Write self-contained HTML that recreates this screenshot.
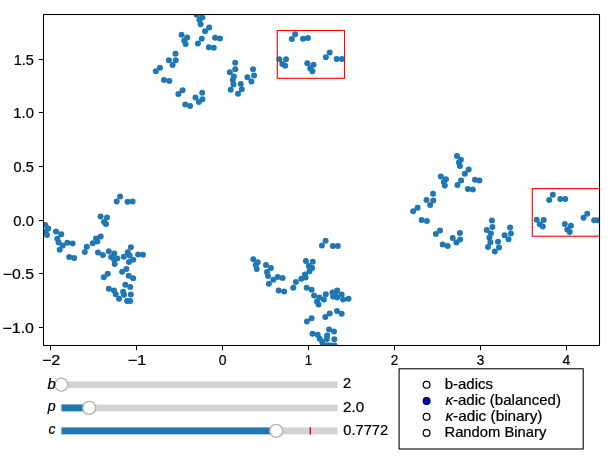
<!DOCTYPE html><html><head><meta charset="utf-8"><style>html,body{margin:0;padding:0;background:#fff;}svg{display:block;will-change:transform;}text{font-family:"Liberation Sans",sans-serif;stroke:#000;stroke-width:0.22px;}</style></head><body>
<svg width="614" height="461" viewBox="0 0 614 461">
<rect x="0" y="0" width="614" height="461" fill="#fff"/>
<defs><clipPath id="pc"><rect x="43.5" y="14.5" width="556.00" height="331.00"/></clipPath></defs>
<g clip-path="url(#pc)" fill="#1f77b4">
<circle cx="196.7" cy="14.7" r="3.0"/>
<circle cx="202.3" cy="17.4" r="3.0"/>
<circle cx="199.4" cy="19.8" r="3.0"/>
<circle cx="200.6" cy="24.2" r="3.0"/>
<circle cx="209.2" cy="27.4" r="3.0"/>
<circle cx="205.0" cy="31.3" r="3.0"/>
<circle cx="201.8" cy="38.7" r="3.0"/>
<circle cx="197.9" cy="43.4" r="3.0"/>
<circle cx="215.1" cy="37.7" r="3.0"/>
<circle cx="220.0" cy="38.5" r="3.0"/>
<circle cx="208.9" cy="47.3" r="3.0"/>
<circle cx="213.8" cy="47.7" r="3.0"/>
<circle cx="181.5" cy="34.8" r="3.0"/>
<circle cx="187.1" cy="37.5" r="3.0"/>
<circle cx="184.2" cy="40.6" r="3.0"/>
<circle cx="185.6" cy="44.1" r="3.0"/>
<circle cx="175.5" cy="53.8" r="3.0"/>
<circle cx="168.9" cy="60.2" r="3.0"/>
<circle cx="175.7" cy="60.2" r="3.0"/>
<circle cx="172.6" cy="64.9" r="3.0"/>
<circle cx="160.0" cy="67.7" r="3.0"/>
<circle cx="155.8" cy="71.3" r="3.0"/>
<circle cx="164.0" cy="80.1" r="3.0"/>
<circle cx="169.3" cy="80.9" r="3.0"/>
<circle cx="182.6" cy="90.3" r="3.0"/>
<circle cx="178.4" cy="94.0" r="3.0"/>
<circle cx="202.2" cy="92.7" r="3.0"/>
<circle cx="195.5" cy="97.6" r="3.0"/>
<circle cx="202.4" cy="99.3" r="3.0"/>
<circle cx="198.9" cy="102.0" r="3.0"/>
<circle cx="185.3" cy="104.4" r="3.0"/>
<circle cx="190.1" cy="105.9" r="3.0"/>
<circle cx="235.2" cy="62.8" r="3.0"/>
<circle cx="235.3" cy="69.2" r="3.0"/>
<circle cx="229.8" cy="72.3" r="3.0"/>
<circle cx="233.8" cy="76.5" r="3.0"/>
<circle cx="232.8" cy="79.9" r="3.0"/>
<circle cx="233.5" cy="84.4" r="3.0"/>
<circle cx="230.7" cy="89.7" r="3.0"/>
<circle cx="240.75" cy="84.1" r="3.0"/>
<circle cx="241.8" cy="89.3" r="3.0"/>
<circle cx="238.0" cy="93.8" r="3.0"/>
<circle cx="253.1" cy="69.2" r="3.0"/>
<circle cx="254.1" cy="75.5" r="3.0"/>
<circle cx="247.4" cy="77.3" r="3.0"/>
<circle cx="251.4" cy="81.4" r="3.0"/>
<circle cx="457.0" cy="155.9" r="3.0"/>
<circle cx="460.9" cy="159.7" r="3.0"/>
<circle cx="458.9" cy="162.4" r="3.0"/>
<circle cx="459.9" cy="166.0" r="3.0"/>
<circle cx="468.7" cy="169.4" r="3.0"/>
<circle cx="464.8" cy="173.8" r="3.0"/>
<circle cx="461.1" cy="180.6" r="3.0"/>
<circle cx="457.4" cy="185.0" r="3.0"/>
<circle cx="475.0" cy="179.7" r="3.0"/>
<circle cx="479.4" cy="180.6" r="3.0"/>
<circle cx="467.9" cy="188.9" r="3.0"/>
<circle cx="472.8" cy="189.4" r="3.0"/>
<circle cx="440.9" cy="176.5" r="3.0"/>
<circle cx="445.9" cy="179.2" r="3.0"/>
<circle cx="443.8" cy="182.1" r="3.0"/>
<circle cx="444.8" cy="185.6" r="3.0"/>
<circle cx="433.05" cy="193.8" r="3.0"/>
<circle cx="426.5" cy="200.0" r="3.0"/>
<circle cx="433.3" cy="200.4" r="3.0"/>
<circle cx="430.1" cy="204.9" r="3.0"/>
<circle cx="417.6" cy="207.7" r="3.0"/>
<circle cx="413.2" cy="211.3" r="3.0"/>
<circle cx="421.6" cy="220.1" r="3.0"/>
<circle cx="426.9" cy="220.9" r="3.0"/>
<circle cx="440.0" cy="230.6" r="3.0"/>
<circle cx="435.8" cy="234.1" r="3.0"/>
<circle cx="459.9" cy="233.1" r="3.0"/>
<circle cx="452.7" cy="238.0" r="3.0"/>
<circle cx="460.1" cy="239.4" r="3.0"/>
<circle cx="456.4" cy="242.6" r="3.0"/>
<circle cx="442.7" cy="244.5" r="3.0"/>
<circle cx="447.7" cy="246.1" r="3.0"/>
<circle cx="491.9" cy="220.6" r="3.0"/>
<circle cx="492.4" cy="227.1" r="3.0"/>
<circle cx="486.7" cy="230.0" r="3.0"/>
<circle cx="490.9" cy="233.5" r="3.0"/>
<circle cx="489.4" cy="237.4" r="3.0"/>
<circle cx="490.4" cy="242.2" r="3.0"/>
<circle cx="488.0" cy="247.1" r="3.0"/>
<circle cx="498.0" cy="241.8" r="3.0"/>
<circle cx="499.0" cy="247.6" r="3.0"/>
<circle cx="494.8" cy="251.5" r="3.0"/>
<circle cx="510.1" cy="227.4" r="3.0"/>
<circle cx="510.9" cy="233.5" r="3.0"/>
<circle cx="504.6" cy="235.2" r="3.0"/>
<circle cx="508.5" cy="239.3" r="3.0"/>
<circle cx="295.1" cy="34.3" r="3.0"/>
<circle cx="291.8" cy="39.0" r="3.0"/>
<circle cx="303.0" cy="38.7" r="3.0"/>
<circle cx="307.9" cy="38.0" r="3.0"/>
<circle cx="279.3" cy="59.2" r="3.0"/>
<circle cx="286.0" cy="59.2" r="3.0"/>
<circle cx="282.3" cy="63.9" r="3.0"/>
<circle cx="285.3" cy="65.8" r="3.0"/>
<circle cx="307.3" cy="63.2" r="3.0"/>
<circle cx="313.5" cy="64.7" r="3.0"/>
<circle cx="310.2" cy="68.3" r="3.0"/>
<circle cx="312.4" cy="71.3" r="3.0"/>
<circle cx="329.7" cy="52.6" r="3.0"/>
<circle cx="325.8" cy="57.2" r="3.0"/>
<circle cx="336.7" cy="59.1" r="3.0"/>
<circle cx="341.9" cy="59.1" r="3.0"/>
<circle cx="552.8" cy="194.8" r="3.0"/>
<circle cx="549.2" cy="200.0" r="3.0"/>
<circle cx="560.3" cy="199.0" r="3.0"/>
<circle cx="565.2" cy="199.0" r="3.0"/>
<circle cx="536.7" cy="219.7" r="3.0"/>
<circle cx="543.7" cy="219.9" r="3.0"/>
<circle cx="539.8" cy="224.3" r="3.0"/>
<circle cx="542.8" cy="226.4" r="3.0"/>
<circle cx="564.8" cy="223.9" r="3.0"/>
<circle cx="570.9" cy="225.8" r="3.0"/>
<circle cx="567.3" cy="229.4" r="3.0"/>
<circle cx="569.7" cy="232.1" r="3.0"/>
<circle cx="587.2" cy="213.8" r="3.0"/>
<circle cx="583.5" cy="217.8" r="3.0"/>
<circle cx="594.1" cy="220.3" r="3.0"/>
<circle cx="597.8" cy="220.3" r="3.0"/>
<circle cx="45.3" cy="224.9" r="3.0"/>
<circle cx="48.2" cy="228.6" r="3.0"/>
<circle cx="45.8" cy="231.6" r="3.0"/>
<circle cx="47.0" cy="235.0" r="3.0"/>
<circle cx="56.0" cy="231.4" r="3.0"/>
<circle cx="61.2" cy="234.3" r="3.0"/>
<circle cx="57.3" cy="238.8" r="3.0"/>
<circle cx="58.6" cy="242.4" r="3.0"/>
<circle cx="67.4" cy="242.8" r="3.0"/>
<circle cx="72.6" cy="243.4" r="3.0"/>
<circle cx="62.8" cy="245.4" r="3.0"/>
<circle cx="59.7" cy="249.7" r="3.0"/>
<circle cx="69.2" cy="257.0" r="3.0"/>
<circle cx="74.1" cy="258.0" r="3.0"/>
<circle cx="86.8" cy="246.7" r="3.0"/>
<circle cx="84.8" cy="252.1" r="3.0"/>
<circle cx="100.7" cy="236.6" r="3.0"/>
<circle cx="96.0" cy="238.5" r="3.0"/>
<circle cx="97.4" cy="241.4" r="3.0"/>
<circle cx="92.7" cy="243.2" r="3.0"/>
<circle cx="98.0" cy="252.6" r="3.0"/>
<circle cx="102.9" cy="255.0" r="3.0"/>
<circle cx="100.6" cy="216.6" r="3.0"/>
<circle cx="107.0" cy="217.4" r="3.0"/>
<circle cx="104.1" cy="222.0" r="3.0"/>
<circle cx="106.0" cy="223.9" r="3.0"/>
<circle cx="120.1" cy="196.5" r="3.0"/>
<circle cx="116.7" cy="201.4" r="3.0"/>
<circle cx="127.5" cy="201.8" r="3.0"/>
<circle cx="132.6" cy="201.6" r="3.0"/>
<circle cx="108.8" cy="251.2" r="3.0"/>
<circle cx="114.3" cy="253.5" r="3.0"/>
<circle cx="111.1" cy="257.1" r="3.0"/>
<circle cx="117.3" cy="258.4" r="3.0"/>
<circle cx="114.0" cy="259.3" r="3.0"/>
<circle cx="114.7" cy="263.9" r="3.0"/>
<circle cx="130.9" cy="247.3" r="3.0"/>
<circle cx="127.7" cy="252.2" r="3.0"/>
<circle cx="123.8" cy="256.7" r="3.0"/>
<circle cx="129.6" cy="255.4" r="3.0"/>
<circle cx="133.2" cy="259.7" r="3.0"/>
<circle cx="129.0" cy="261.9" r="3.0"/>
<circle cx="138.1" cy="254.5" r="3.0"/>
<circle cx="143.0" cy="254.7" r="3.0"/>
<circle cx="126.4" cy="269.1" r="3.0"/>
<circle cx="122.1" cy="271.7" r="3.0"/>
<circle cx="107.7" cy="273.8" r="3.0"/>
<circle cx="103.8" cy="277.2" r="3.0"/>
<circle cx="128.7" cy="275.7" r="3.0"/>
<circle cx="133.1" cy="278.2" r="3.0"/>
<circle cx="125.4" cy="284.8" r="3.0"/>
<circle cx="130.2" cy="287.1" r="3.0"/>
<circle cx="108.8" cy="288.8" r="3.0"/>
<circle cx="114.0" cy="290.5" r="3.0"/>
<circle cx="115.7" cy="294.3" r="3.0"/>
<circle cx="123.1" cy="291.7" r="3.0"/>
<circle cx="124.0" cy="294.8" r="3.0"/>
<circle cx="130.8" cy="294.5" r="3.0"/>
<circle cx="119.1" cy="298.8" r="3.0"/>
<circle cx="127.1" cy="301.1" r="3.0"/>
<circle cx="130.2" cy="301.1" r="3.0"/>
<circle cx="253.3" cy="259.3" r="3.0"/>
<circle cx="257.7" cy="262.2" r="3.0"/>
<circle cx="255.7" cy="265.1" r="3.0"/>
<circle cx="256.7" cy="269.1" r="3.0"/>
<circle cx="266.0" cy="265.1" r="3.0"/>
<circle cx="270.9" cy="268.1" r="3.0"/>
<circle cx="267.0" cy="272.0" r="3.0"/>
<circle cx="268.0" cy="275.9" r="3.0"/>
<circle cx="277.7" cy="276.9" r="3.0"/>
<circle cx="282.6" cy="277.9" r="3.0"/>
<circle cx="273.3" cy="279.8" r="3.0"/>
<circle cx="268.9" cy="283.7" r="3.0"/>
<circle cx="278.7" cy="290.6" r="3.0"/>
<circle cx="284.1" cy="291.5" r="3.0"/>
<circle cx="295.9" cy="282.0" r="3.0"/>
<circle cx="293.3" cy="287.7" r="3.0"/>
<circle cx="301.4" cy="278.7" r="3.0"/>
<circle cx="305.0" cy="274.5" r="3.0"/>
<circle cx="305.6" cy="277.4" r="3.0"/>
<circle cx="309.5" cy="271.3" r="3.0"/>
<circle cx="305.9" cy="260.9" r="3.0"/>
<circle cx="312.8" cy="261.8" r="3.0"/>
<circle cx="308.9" cy="266.1" r="3.0"/>
<circle cx="312.1" cy="268.0" r="3.0"/>
<circle cx="325.6" cy="240.7" r="3.0"/>
<circle cx="321.9" cy="245.6" r="3.0"/>
<circle cx="332.9" cy="245.9" r="3.0"/>
<circle cx="337.8" cy="245.9" r="3.0"/>
<circle cx="306.7" cy="287.8" r="3.0"/>
<circle cx="311.6" cy="289.8" r="3.0"/>
<circle cx="314.1" cy="295.6" r="3.0"/>
<circle cx="319.4" cy="297.6" r="3.0"/>
<circle cx="323.8" cy="299.5" r="3.0"/>
<circle cx="317.0" cy="301.5" r="3.0"/>
<circle cx="318.5" cy="304.4" r="3.0"/>
<circle cx="325.8" cy="294.2" r="3.0"/>
<circle cx="332.5" cy="292.4" r="3.0"/>
<circle cx="337.1" cy="290.4" r="3.0"/>
<circle cx="335.5" cy="294.0" r="3.0"/>
<circle cx="333.1" cy="296.4" r="3.0"/>
<circle cx="337.1" cy="297.5" r="3.0"/>
<circle cx="341.7" cy="294.4" r="3.0"/>
<circle cx="343.1" cy="299.5" r="3.0"/>
<circle cx="348.5" cy="298.7" r="3.0"/>
<circle cx="337.0" cy="310.9" r="3.0"/>
<circle cx="341.7" cy="313.8" r="3.0"/>
<circle cx="329.7" cy="313.5" r="3.0"/>
<circle cx="325.3" cy="317.0" r="3.0"/>
<circle cx="311.6" cy="318.2" r="3.0"/>
<circle cx="306.9" cy="321.6" r="3.0"/>
<circle cx="329.1" cy="329.6" r="3.0"/>
<circle cx="334.0" cy="331.5" r="3.0"/>
<circle cx="312.5" cy="333.8" r="3.0"/>
<circle cx="317.7" cy="334.8" r="3.0"/>
<circle cx="319.7" cy="338.7" r="3.0"/>
<circle cx="322.3" cy="341.9" r="3.0"/>
<circle cx="327.1" cy="335.4" r="3.0"/>
<circle cx="326.8" cy="339.0" r="3.0"/>
<circle cx="334.3" cy="339.3" r="3.0"/>
<circle cx="323.2" cy="345.0" r="3.0"/>
<circle cx="327.8" cy="345.3" r="3.0"/>
<circle cx="331.0" cy="345.6" r="3.0"/>
<circle cx="334.5" cy="345.6" r="3.0"/>
</g>
<g fill="none" stroke="#ff0000" stroke-width="1.1">
<rect x="277.3" y="30.5" width="67.2" height="47.8"/>
<rect x="532.3" y="188.6" width="67.2" height="47.6"/>
</g>
<rect x="43.5" y="14.5" width="556.00" height="331.00" fill="none" stroke="#000" stroke-width="1.07"/>
<g stroke="#000" stroke-width="1.07">
<line x1="50.50" y1="345.5" x2="50.50" y2="350.30"/>
<line x1="136.50" y1="345.5" x2="136.50" y2="350.30"/>
<line x1="222.50" y1="345.5" x2="222.50" y2="350.30"/>
<line x1="308.50" y1="345.5" x2="308.50" y2="350.30"/>
<line x1="394.50" y1="345.5" x2="394.50" y2="350.30"/>
<line x1="480.50" y1="345.5" x2="480.50" y2="350.30"/>
<line x1="566.50" y1="345.5" x2="566.50" y2="350.30"/>
<line x1="38.90" y1="327.50" x2="43.5" y2="327.50"/>
<line x1="38.90" y1="273.50" x2="43.5" y2="273.50"/>
<line x1="38.90" y1="220.50" x2="43.5" y2="220.50"/>
<line x1="38.90" y1="166.50" x2="43.5" y2="166.50"/>
<line x1="38.90" y1="112.50" x2="43.5" y2="112.50"/>
<line x1="38.90" y1="59.50" x2="43.5" y2="59.50"/>
</g>
<text x="41.92" y="365.20" font-size="14.1" textLength="18.48" lengthAdjust="spacingAndGlyphs" fill="#000">−2</text>
<text x="127.79" y="365.20" font-size="14.1" textLength="18.57" lengthAdjust="spacingAndGlyphs" fill="#000">−1</text>
<text x="218.80" y="365.20" font-size="14.1" textLength="7.80" lengthAdjust="spacingAndGlyphs" fill="#000">0</text>
<text x="304.72" y="365.20" font-size="14.1" textLength="7.45" lengthAdjust="spacingAndGlyphs" fill="#000">1</text>
<text x="390.79" y="365.20" font-size="14.1" textLength="7.52" lengthAdjust="spacingAndGlyphs" fill="#000">2</text>
<text x="476.77" y="365.20" font-size="14.1" textLength="7.49" lengthAdjust="spacingAndGlyphs" fill="#000">3</text>
<text x="562.55" y="365.20" font-size="14.1" textLength="7.80" lengthAdjust="spacingAndGlyphs" fill="#000">4</text>
<text x="2.51" y="332.58" font-size="14.1" textLength="31.41" lengthAdjust="spacingAndGlyphs" fill="#000">−1.0</text>
<text x="2.80" y="279.04" font-size="14.1" textLength="31.17" lengthAdjust="spacingAndGlyphs" fill="#000">−0.5</text>
<text x="13.33" y="225.50" font-size="14.1" textLength="20.55" lengthAdjust="spacingAndGlyphs" fill="#000">0.0</text>
<text x="13.62" y="171.96" font-size="14.1" textLength="20.30" lengthAdjust="spacingAndGlyphs" fill="#000">0.5</text>
<text x="13.37" y="118.42" font-size="14.1" textLength="20.51" lengthAdjust="spacingAndGlyphs" fill="#000">1.0</text>
<text x="13.66" y="64.88" font-size="14.1" textLength="20.25" lengthAdjust="spacingAndGlyphs" fill="#000">1.5</text>
<rect x="61.5" y="381.30" width="276.10" height="6.8" fill="#d3d3d3"/>
<circle cx="61.3" cy="384.7" r="6.5" fill="#fff" stroke="#b0b0b0" stroke-width="1.3"/>
<text x="47.49" y="388.80" font-size="14.1" textLength="8.16" lengthAdjust="spacingAndGlyphs" fill="#000"><tspan font-style="italic">b</tspan></text>
<text x="343.06" y="388.40" font-size="14.1" textLength="8.18" lengthAdjust="spacingAndGlyphs" fill="#000">2</text>
<rect x="61.5" y="404.50" width="276.10" height="6.8" fill="#d3d3d3"/>
<rect x="61.5" y="404.50" width="27.70" height="6.8" fill="#1f77b4"/>
<circle cx="89.2" cy="407.9" r="6.5" fill="#fff" stroke="#b0b0b0" stroke-width="1.3"/>
<text x="47.75" y="411.20" font-size="14.1" textLength="7.90" lengthAdjust="spacingAndGlyphs" fill="#000"><tspan font-style="italic">p</tspan></text>
<text x="343.03" y="411.80" font-size="14.1" textLength="21.16" lengthAdjust="spacingAndGlyphs" fill="#000">2.0</text>
<rect x="61.5" y="427.50" width="276.10" height="6.8" fill="#d3d3d3"/>
<rect x="61.5" y="427.50" width="214.70" height="6.8" fill="#1f77b4"/>
<line x1="310.3" y1="427.30" x2="310.3" y2="434.50" stroke="#ff0000" stroke-width="1.5"/>
<circle cx="276.2" cy="430.9" r="6.5" fill="#fff" stroke="#b0b0b0" stroke-width="1.3"/>
<text x="48.45" y="434.00" font-size="14.1" textLength="6.91" lengthAdjust="spacingAndGlyphs" fill="#000"><tspan font-style="italic">c</tspan></text>
<text x="343.23" y="434.70" font-size="14.1" textLength="44.91" lengthAdjust="spacingAndGlyphs" fill="#000">0.7772</text>
<rect x="399.1" y="368.8" width="184.1" height="80.2" fill="#fff" stroke="#000" stroke-width="1.07"/>
<circle cx="426.6" cy="384.7" r="3.4" fill="#fff" stroke="#000" stroke-width="1.2"/>
<text x="444.74" y="388.70" font-size="14.1" textLength="48.20" lengthAdjust="spacingAndGlyphs" fill="#000">b-adics</text>
<circle cx="426.6" cy="401.0" r="3.4" fill="#0000ff" stroke="#000" stroke-width="1.2"/>
<text x="445.45" y="404.90" font-size="14.1" textLength="115.48" lengthAdjust="spacingAndGlyphs" fill="#000"><tspan font-style="italic">κ</tspan>-adic (balanced)</text>
<circle cx="426.6" cy="416.8" r="3.4" fill="#fff" stroke="#000" stroke-width="1.2"/>
<text x="445.45" y="420.80" font-size="14.1" textLength="97.00" lengthAdjust="spacingAndGlyphs" fill="#000"><tspan font-style="italic">κ</tspan>-adic (binary)</text>
<circle cx="426.6" cy="433.0" r="3.4" fill="#fff" stroke="#000" stroke-width="1.2"/>
<text x="444.49" y="436.70" font-size="14.1" textLength="101.84" lengthAdjust="spacingAndGlyphs" fill="#000">Random Binary</text>
</svg></body></html>
